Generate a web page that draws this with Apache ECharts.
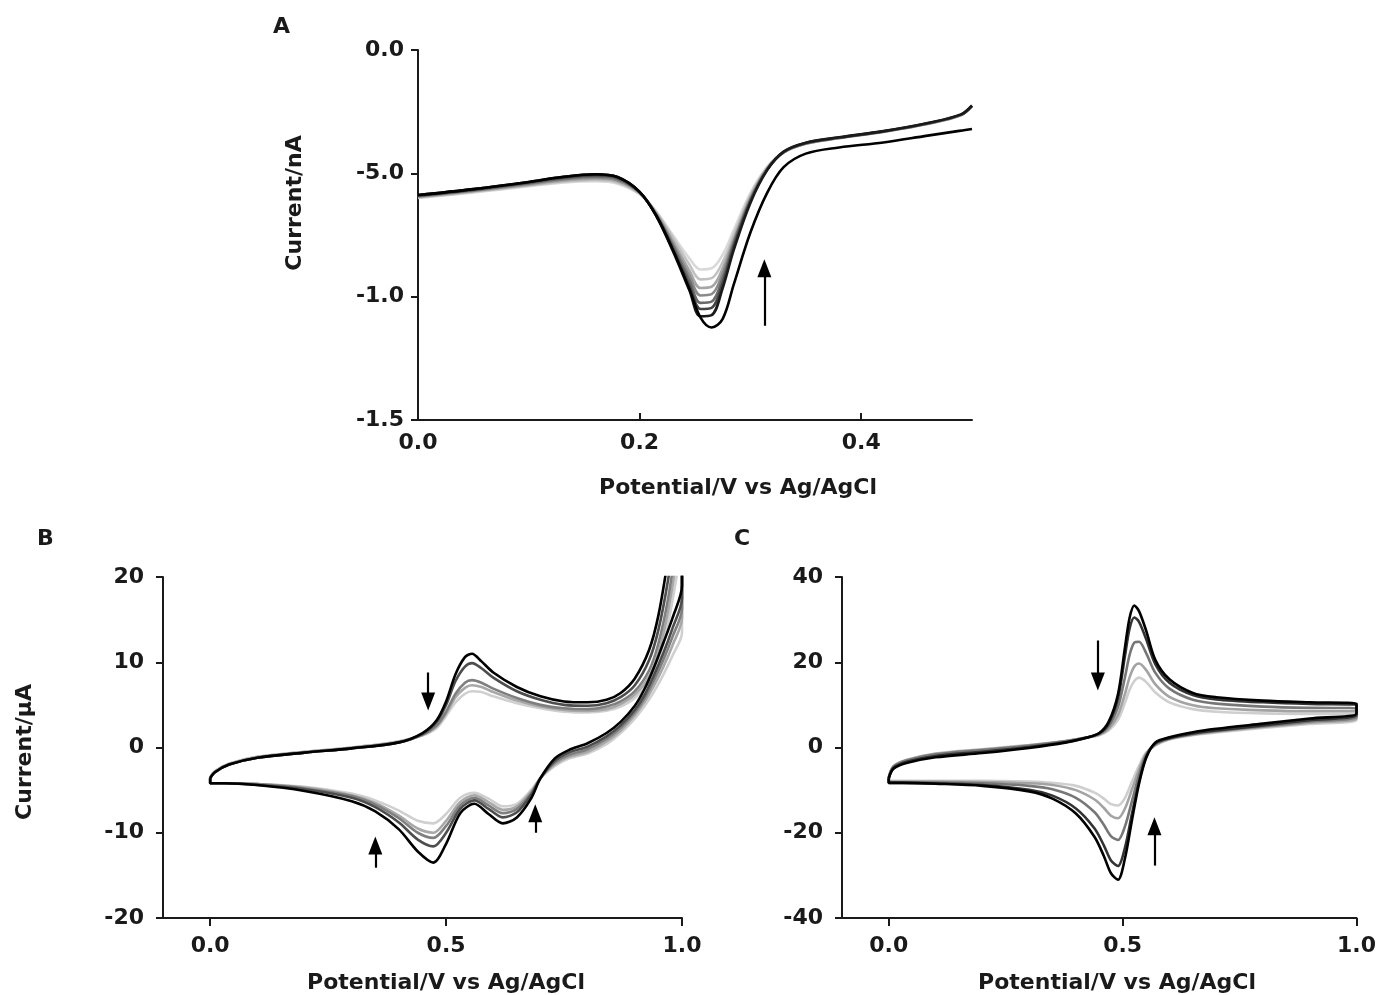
<!DOCTYPE html>
<html>
<head>
<meta charset="utf-8">
<script src="https://cdn.jsdelivr.net/npm/echarts@6/dist/echarts.min.js"></script>
<style>
  html, body { margin: 0; padding: 0; background: #fff; }
  #main { width: 1379px; height: 995px; }
</style>
</head>
<body>
<div id="main"></div>
<script>
// Panel A: potential grid (V) and current traces (nA), light -> dark
const aPotential = [0, 0.05, 0.1, 0.13, 0.16, 0.18, 0.2, 0.215, 0.23, 0.245, 0.255, 0.265, 0.275, 0.285, 0.3, 0.315, 0.33, 0.35, 0.38, 0.42, 0.46, 0.49, 0.5];
const aCurrent1 = [-0.6, -0.578, -0.552, -0.538, -0.532, -0.542, -0.585, -0.655, -0.75, -0.845, -0.89, -0.885, -0.83, -0.73, -0.58, -0.475, -0.415, -0.38, -0.358, -0.332, -0.3, -0.265, -0.228];
const aCurrent2 = [-0.598, -0.575, -0.549, -0.534, -0.527, -0.537, -0.582, -0.658, -0.76, -0.87, -0.93, -0.925, -0.86, -0.75, -0.59, -0.478, -0.415, -0.38, -0.358, -0.332, -0.3, -0.265, -0.228];
const aCurrent3 = [-0.596, -0.572, -0.546, -0.53, -0.522, -0.532, -0.58, -0.662, -0.775, -0.895, -0.965, -0.96, -0.885, -0.765, -0.597, -0.48, -0.415, -0.38, -0.357, -0.331, -0.299, -0.264, -0.227];
const aCurrent4 = [-0.594, -0.57, -0.543, -0.526, -0.518, -0.528, -0.578, -0.665, -0.785, -0.915, -0.995, -0.99, -0.905, -0.775, -0.603, -0.482, -0.415, -0.379, -0.357, -0.331, -0.299, -0.264, -0.227];
const aCurrent5 = [-0.592, -0.568, -0.54, -0.522, -0.513, -0.523, -0.577, -0.668, -0.795, -0.935, -1.025, -1.02, -0.925, -0.785, -0.608, -0.484, -0.414, -0.378, -0.356, -0.33, -0.298, -0.263, -0.226];
const aCurrent6 = [-0.59, -0.566, -0.537, -0.518, -0.508, -0.518, -0.576, -0.67, -0.805, -0.955, -1.05, -1.045, -0.945, -0.795, -0.613, -0.486, -0.413, -0.377, -0.355, -0.33, -0.297, -0.262, -0.226];
const aCurrent7 = [-0.588, -0.564, -0.535, -0.515, -0.504, -0.515, -0.575, -0.672, -0.815, -0.975, -1.08, -1.075, -0.965, -0.81, -0.62, -0.488, -0.412, -0.376, -0.354, -0.329, -0.296, -0.261, -0.225];
const aCurrent8 = [-0.588, -0.564, -0.535, -0.515, -0.504, -0.515, -0.575, -0.672, -0.81, -0.97, -1.085, -1.125, -1.09, -0.95, -0.74, -0.58, -0.475, -0.42, -0.395, -0.375, -0.347, -0.327, -0.32];
const aColors = ['#d9d9d9', '#c2c2c2', '#a6a6a6', '#8a8a8a', '#6a6a6a', '#444444', '#1a1a1a', '#000000'];
const aYTicks = [0, -0.5, -1.0, -1.5];
const aYLabels = ['0.0', '-5.0', '-1.0', '-1.5'];
const aXTicks = [0, 0.2, 0.4];

// Panel B: forward and reverse sweeps (µA)
const bFwdPotential = [0, 0.01, 0.04, 0.1, 0.2, 0.3, 0.4, 0.45, 0.48, 0.5, 0.52, 0.54, 0.555, 0.575, 0.6, 0.65, 0.7, 0.75, 0.8, 0.84, 0.87, 0.9, 0.93, 0.95, 0.97, 0.99, 1.0];
const bFwd1 = [-3.5, -2.8, -1.9, -1.1, -0.5, 0.0, 0.7, 1.4, 2.3, 3.7, 5.3, 6.3, 6.6, 6.5, 6.0, 5.2, 4.6, 4.2, 4.1, 4.3, 4.8, 5.8, 7.7, 10.2, 14.4, 20.5, 24];
const bFwd2 = [-3.5, -2.8, -1.9, -1.1, -0.5, 0.0, 0.7, 1.5, 2.5, 4.0, 5.9, 7.0, 7.3, 7.1, 6.5, 5.5, 4.8, 4.4, 4.3, 4.5, 5.1, 6.2, 8.3, 11.1, 15.8, 22.5, 26];
const bFwd3 = [-3.6, -2.9, -2.0, -1.2, -0.6, -0.1, 0.6, 1.5, 2.6, 4.2, 6.3, 7.6, 7.9, 7.6, 6.9, 5.8, 5.0, 4.6, 4.5, 4.8, 5.4, 6.6, 9.0, 12.2, 17.3, 24.5, 28];
const bFwd4 = [-3.6, -2.9, -2.0, -1.2, -0.6, -0.1, 0.6, 1.6, 3.0, 5.0, 7.8, 9.5, 9.9, 9.3, 8.2, 6.6, 5.6, 5.0, 4.9, 5.2, 5.9, 7.3, 10.2, 13.8, 19.5, 27, 31];
const bFwd5 = [-3.6, -2.9, -2.0, -1.2, -0.6, -0.1, 0.6, 1.7, 3.2, 5.4, 8.6, 10.6, 11.0, 10.1, 8.8, 7.1, 6.0, 5.4, 5.3, 5.6, 6.4, 8.1, 11.4, 15.5, 22, 30, 34];
const bRevPotential = [1.0, 0.98, 0.96, 0.94, 0.92, 0.9, 0.87, 0.84, 0.8, 0.76, 0.73, 0.7, 0.68, 0.65, 0.62, 0.59, 0.56, 0.53, 0.5, 0.473, 0.44, 0.4, 0.35, 0.3, 0.2, 0.1, 0.03, 0];
const bRev1 = [13.5, 10.8, 8.5, 6.5, 4.8, 3.4, 1.7, 0.4, -0.7, -1.3, -2.2, -3.6, -5.0, -6.6, -6.9, -6.0, -5.3, -5.9, -7.8, -8.9, -8.6, -7.4, -6.2, -5.4, -4.6, -4.3, -4.2, -4.2];
const bRev2 = [15.2, 12, 9.4, 7.2, 5.3, 3.8, 2.0, 0.7, -0.5, -1.1, -2.0, -3.6, -5.2, -6.9, -7.3, -6.4, -5.6, -6.4, -8.6, -10.0, -9.5, -8.0, -6.5, -5.6, -4.7, -4.3, -4.2, -4.2];
const bRev3 = [16.3, 13, 10.2, 7.8, 5.7, 4.1, 2.3, 1.0, -0.2, -0.9, -1.8, -3.6, -5.4, -7.2, -7.7, -6.8, -5.9, -6.8, -9.2, -10.6, -10.0, -8.3, -6.7, -5.7, -4.8, -4.3, -4.2, -4.2];
const bRev4 = [17.5, 14, 11.0, 8.4, 6.1, 4.4, 2.6, 1.3, 0.1, -0.6, -1.6, -3.6, -5.6, -7.6, -8.2, -7.2, -6.2, -7.2, -10.0, -11.6, -10.8, -8.8, -7.0, -5.9, -4.9, -4.4, -4.2, -4.2];
const bRev5 = [19, 15.2, 12.2, 9.3, 6.8, 4.9, 3.0, 1.7, 0.5, -0.3, -1.3, -3.6, -6.0, -8.2, -8.9, -7.8, -6.6, -7.7, -11.3, -13.5, -12.2, -9.6, -7.5, -6.3, -5.1, -4.4, -4.2, -4.2];
const bColors = ['#d0d0d0', '#a8a8a8', '#7f7f7f', '#4d4d4d', '#000000'];

// Panel C
const cFwdPotential = [0, 0.01, 0.04, 0.1, 0.2, 0.3, 0.38, 0.42, 0.45, 0.47, 0.49, 0.505, 0.515, 0.525, 0.535, 0.55, 0.57, 0.6, 0.65, 0.7, 0.8, 0.9, 1.0];
const cFwd1 = [-7.0, -4.4, -2.9, -1.4, -0.4, 0.6, 1.6, 2.3, 2.9, 4.0, 6.5, 10.5, 13.6, 15.6, 16.4, 15.4, 12.9, 10.6, 9.0, 8.4, 8.0, 7.9, 7.9];
const cFwd2 = [-7.0, -4.4, -2.9, -1.5, -0.5, 0.5, 1.5, 2.3, 3.0, 4.4, 7.6, 12.6, 16.5, 19.0, 19.7, 18.2, 14.8, 11.9, 9.9, 9.2, 8.7, 8.5, 8.5];
const cFwd3 = [-7.0, -4.5, -3.0, -1.6, -0.6, 0.4, 1.5, 2.3, 3.2, 5.0, 9.5, 16.5, 21.8, 24.6, 24.8, 22.2, 17.5, 13.8, 11.2, 10.3, 9.6, 9.3, 9.2];
const cFwd4 = [-7.2, -4.8, -3.3, -2.0, -1.0, 0.1, 1.3, 2.2, 3.3, 5.6, 11.5, 21.5, 28, 30.5, 29.5, 25.5, 19.5, 15.2, 12.3, 11.3, 10.6, 10.2, 10.0];
const cFwd5 = [-7.2, -5.0, -3.6, -2.3, -1.3, -0.1, 1.2, 2.2, 3.4, 6.0, 12.5, 23.5, 30.5, 33.3, 32.0, 27.5, 20.5, 16.0, 12.8, 11.8, 11.0, 10.6, 10.3];
const cRevPotential = [1.0, 0.9, 0.8, 0.7, 0.65, 0.6, 0.57, 0.55, 0.535, 0.52, 0.505, 0.49, 0.475, 0.46, 0.44, 0.4, 0.35, 0.3, 0.2, 0.1, 0.03, 0];
const cRev1 = [6.4, 5.5, 4.6, 3.5, 2.9, 1.9, 0.5, -1.2, -4.3, -8.0, -11.8, -13.6, -13.3, -12.0, -10.6, -9.0, -8.3, -8.0, -7.8, -7.8, -7.8, -7.8];
const cRev2 = [6.8, 5.8, 4.8, 3.7, 3.0, 2.0, 0.6, -1.5, -5.2, -9.8, -14.3, -16.6, -16.0, -14.2, -12.2, -10.0, -8.8, -8.4, -8.1, -8.0, -8.0, -8.0];
const cRev3 = [7.2, 6.1, 5.0, 3.9, 3.2, 2.1, 0.8, -1.8, -6.5, -12.5, -18.5, -21.7, -20.8, -18.2, -15.2, -11.8, -9.8, -9.0, -8.4, -8.2, -8.2, -8.2];
const cRev4 = [7.6, 6.4, 5.2, 4.0, 3.3, 2.2, 1.0, -2.3, -8.0, -15.5, -23.5, -27.8, -26.5, -23.0, -19.0, -14.3, -11.3, -9.9, -8.8, -8.4, -8.3, -8.3];
const cRev5 = [8.0, 6.8, 5.6, 4.4, 3.6, 2.4, 1.2, -2.5, -8.5, -17, -26, -31, -29.5, -25.5, -21, -15.5, -12, -10.3, -9.0, -8.5, -8.3, -8.3];
const cColors = ['#cfcfcf', '#a3a3a3', '#777777', '#333333', '#000000'];

const xTicksBC = [0, 0.5, 1.0];

// arrows: [potential, tail current, head current]
const arrowsA = [[0.3126, -1.118, -0.885]];
const arrowsB = [[0.462, 8.8, 5.4], [0.35, -14.1, -11.5], [0.689, -10.0, -7.7]];
const arrowsC = [[0.447, 25.1, 15.5], [0.568, -27.7, -18.5]];

const FONT = 'DejaVu Sans';
const INK = '#1a1a1a';
const LW = 2.6;

function pairs(xs, ys) {
  return xs.map((x, i) => [x, ys[i]]);
}
function loop(fx, fy, rx, ry) {
  const d = pairs(fx, fy).concat(pairs(rx, ry));
  d.push([fx[0], fy[0]]);
  return d;
}
function arrowLine(list) {
  return {
    silent: true,
    symbol: ['none', 'triangle'],
    symbolSize: [14, 18],
    lineStyle: { color: '#000', width: 2.2, type: 'solid' },
    label: { show: false },
    emphasis: { disabled: true },
    data: list.map((a) => [{ coord: [a[0], a[1]] }, { coord: [a[0], a[2]] }])
  };
}

const labelStyle = { color: INK, fontSize: 22, fontWeight: 'bold', fontFamily: FONT };
const lineStyleAxis = { show: true, onZero: false, lineStyle: { color: INK, width: 2 } };
const textStyle = { fill: INK, fontSize: 22, fontWeight: 'bold', fontFamily: FONT };

function title(text, x, y, vertical) {
  return {
    type: 'text', x: x, y: y, rotation: vertical ? Math.PI / 2 : 0,
    style: Object.assign({ text: text, align: 'center', verticalAlign: 'middle' }, textStyle)
  };
}

let myChart = echarts.init(document.getElementById('main'));

const aSeries = [aCurrent1, aCurrent2, aCurrent3, aCurrent4, aCurrent5, aCurrent6, aCurrent7, aCurrent8].map((ys, i) => ({
  type: 'line', xAxisIndex: 0, yAxisIndex: 0, data: pairs(aPotential, ys),
  showSymbol: false, smooth: 0.35, lineStyle: { color: aColors[i], width: LW }, silent: true
}));
aSeries[aSeries.length - 1].markLine = arrowLine(arrowsA);

const bFwd = [bFwd1, bFwd2, bFwd3, bFwd4, bFwd5];
const bRev = [bRev1, bRev2, bRev3, bRev4, bRev5];
const bSeries = bFwd.map((fy, i) => ({
  type: 'line', xAxisIndex: 1, yAxisIndex: 1, data: loop(bFwdPotential, fy, bRevPotential, bRev[i]),
  showSymbol: false, smooth: 0.3, lineStyle: { color: bColors[i], width: LW }, silent: true
}));
bSeries[bSeries.length - 1].markLine = arrowLine(arrowsB);

const cFwd = [cFwd1, cFwd2, cFwd3, cFwd4, cFwd5];
const cRev = [cRev1, cRev2, cRev3, cRev4, cRev5];
const cSeries = cFwd.map((fy, i) => ({
  type: 'line', xAxisIndex: 2, yAxisIndex: 2, data: loop(cFwdPotential, fy, cRevPotential, cRev[i]),
  showSymbol: false, smooth: 0.3, lineStyle: { color: cColors[i], width: LW }, silent: true
}));
cSeries[cSeries.length - 1].markLine = arrowLine(arrowsC);

const fmt1 = (v) => v.toFixed(1);

function xAxisBC(gridIndex) {
  return {
    gridIndex: gridIndex, type: 'value', min: -0.1, max: 1.0,
    axisLine: lineStyleAxis,
    axisTick: { show: true, length: 8, customValues: xTicksBC, lineStyle: { color: INK, width: 2 } },
    axisLabel: Object.assign({ customValues: xTicksBC, formatter: fmt1, margin: 17 }, labelStyle),
    splitLine: { show: false }
  };
}

let options = {
  animation: false,
  backgroundColor: '#fff',
  grid: [
    { left: 418, top: 50, width: 554, height: 370 },
    { left: 163, top: 577, width: 519, height: 341 },
    { left: 842, top: 577, width: 517, height: 341 }
  ],
  xAxis: [
    {
      gridIndex: 0, type: 'value', min: 0, max: 0.5,
      axisLine: lineStyleAxis,
      axisTick: { show: true, inside: true, length: 7, customValues: aXTicks, lineStyle: { color: INK, width: 2 } },
      axisLabel: Object.assign({ customValues: aXTicks, formatter: fmt1, margin: 12 }, labelStyle),
      splitLine: { show: false }
    },
    xAxisBC(1),
    xAxisBC(2)
  ],
  yAxis: [
    {
      gridIndex: 0, type: 'value', min: -1.5, max: 0, interval: 0.5,
      axisLine: lineStyleAxis,
      axisTick: { show: true, length: 7, lineStyle: { color: INK, width: 2 } },
      axisLabel: Object.assign({
        margin: 14,
        formatter: (v) => aYLabels[aYTicks.findIndex((t) => Math.abs(t - v) < 1e-9)]
      }, labelStyle),
      splitLine: { show: false }
    },
    {
      gridIndex: 1, type: 'value', min: -20, max: 20, interval: 10,
      axisLine: lineStyleAxis,
      axisTick: { show: true, length: 7, lineStyle: { color: INK, width: 2 } },
      axisLabel: Object.assign({ margin: 19 }, labelStyle),
      splitLine: { show: false }
    },
    {
      gridIndex: 2, type: 'value', min: -40, max: 40, interval: 20,
      axisLine: lineStyleAxis,
      axisTick: { show: true, length: 7, lineStyle: { color: INK, width: 2 } },
      axisLabel: Object.assign({ margin: 19 }, labelStyle),
      splitLine: { show: false }
    }
  ],
  graphic: [
    { type: 'text', left: 273, top: 16, style: Object.assign({ text: 'A' }, textStyle) },
    { type: 'text', left: 37, top: 528, style: Object.assign({ text: 'B' }, textStyle) },
    { type: 'text', left: 734, top: 528, style: Object.assign({ text: 'C' }, textStyle) },
    title('Current/nA', 295, 203, true),
    title('Current/μA', 25, 752, true),
    title('Potential/V vs Ag/AgCl', 738, 488, false),
    title('Potential/V vs Ag/AgCl', 446, 983, false),
    title('Potential/V vs Ag/AgCl', 1117, 983, false)
  ],
  series: aSeries.concat(bSeries, cSeries)
};
myChart.setOption(options);
</script>
</body>
</html>
